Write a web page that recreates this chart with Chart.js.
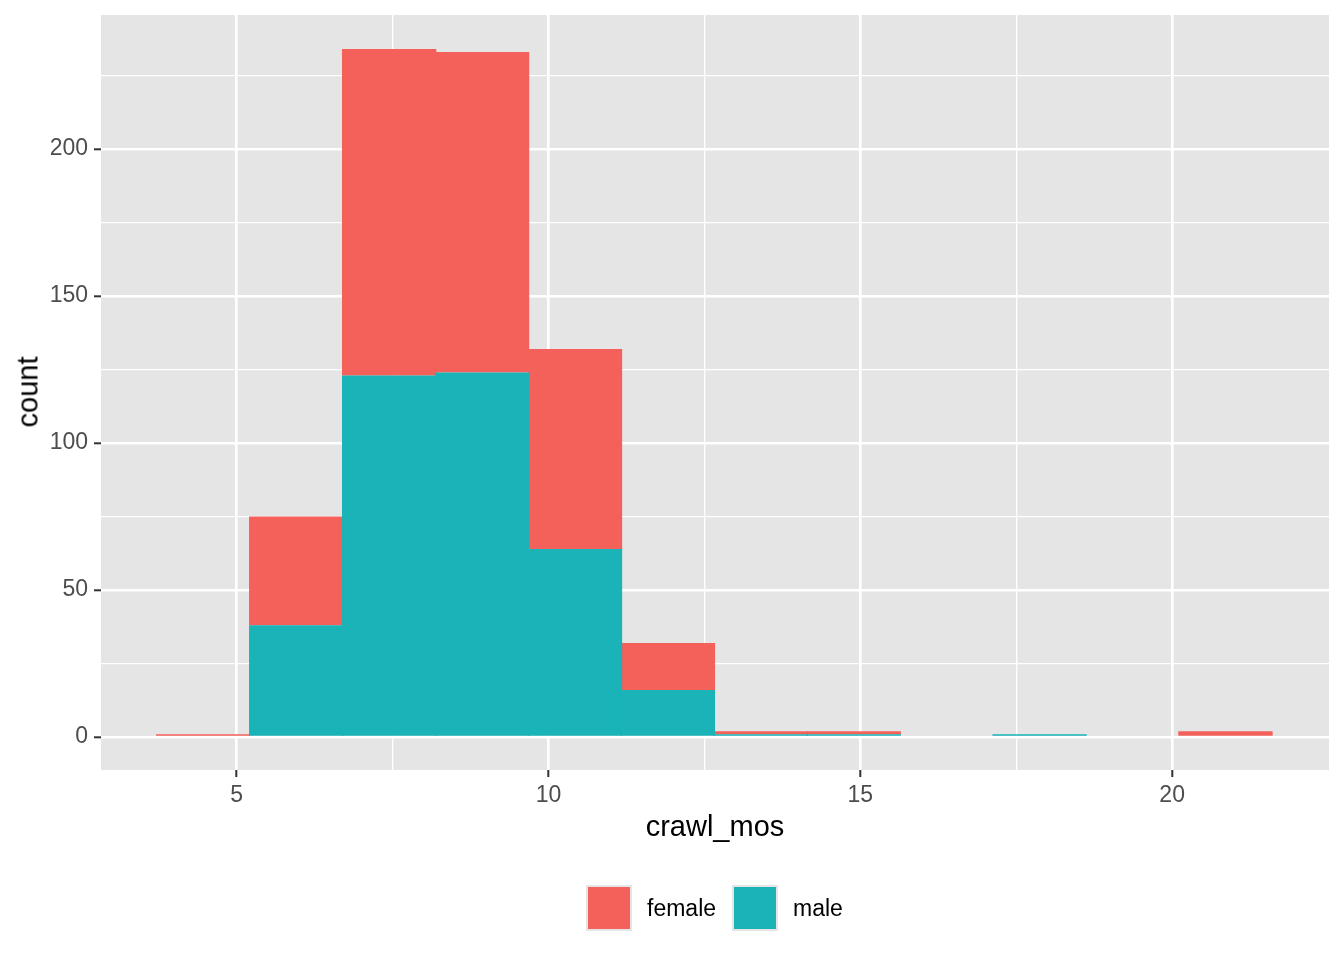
<!DOCTYPE html>
<html>
<head>
<meta charset="utf-8">
<script src="https://cdn.jsdelivr.net/npm/chart.js@4.4.1/dist/chart.umd.min.js"></script>
<style>
  body { margin: 0; background: #fff; }
  #wrap { position: relative; width: 1344px; height: 960px; font-family: "Liberation Sans", Arial, sans-serif; }
  #chart { position: absolute; left: 0; top: 0; }
  .axis-title { position: absolute; color: #000; font-size: 29px; line-height: 29px; white-space: nowrap; }
  #xtitle { left: 0; width: 1430px; top: 812px; text-align: center; }
  #ytitle { left: 28px; top: 392px; transform: translate(-50%, -50%) rotate(-90deg); }
  .legend-item { position: absolute; top: 885px; height: 46px; display: flex; align-items: center; font-size: 23px; color: #000; }
  .legend-key { width: 42px; height: 42px; border: 2px solid #e5e5e5; margin-right: 15px; }
</style>
</head>
<body>
<div id="wrap">
  <canvas id="chart" width="1344" height="960"></canvas>
  <div id="xtitle" class="axis-title">crawl_mos</div>
  <div id="ytitle" class="axis-title">count</div>
  <div id="chart-legend"></div>
</div>
<script>
// histogram bins (crawl_mos), bin width ~1.49
const binCenters = [4.465, 5.955, 7.445, 8.935, 10.425, 11.915, 13.405, 14.895, 16.385, 17.875, 19.365, 20.855];
const maleCounts = [0, 38, 123, 124, 64, 16, 1, 1, 0, 1, 0, 0];
const femaleCounts = [1, 37, 111, 109, 68, 16, 1, 1, 0, 0, 0, 2];

const xTicks = [5, 7.5, 10, 12.5, 15, 17.5, 20];
const yTicks = [0, 25, 50, 75, 100, 125, 150, 175, 200, 225];

const COLORS = {
  female: "#f4605a",
  male: "#19b3b8",
};

const panelBg = {
  id: "panelBg",
  beforeDraw(chart) {
    const { ctx, chartArea: a } = chart;
    ctx.save();
    ctx.fillStyle = "#e5e5e5";
    ctx.fillRect(a.left, a.top, a.right - a.left, a.bottom - a.top);
    ctx.restore();
  },
};

function renderLegend(el, items) {
  const lefts = [586, 732];
  el.innerHTML = items
    .map(
      (i, k) =>
        `<div class="legend-item" style="left:${lefts[k]}px"><span class="legend-key" style="background:${i.color}"></span>${i.label}</div>`
    )
    .join("");
}

const isMajorX = (v) => v % 5 === 0;
const isMajorY = (v) => v % 50 === 0;

new Chart(document.getElementById("chart"), {
  type: "bar",
  data: {
    datasets: [
      {
        label: "male",
        data: binCenters.map((x, i) => ({ x, y: maleCounts[i] })),
        backgroundColor: COLORS.male,
        borderWidth: 0,
      },
      {
        label: "female",
        data: binCenters.map((x, i) => ({ x, y: femaleCounts[i] })),
        backgroundColor: COLORS.female,
        borderWidth: 0,
      },
    ],
  },
  options: {
    responsive: false,
    animation: false,
    barPercentage: 1.015,
    categoryPercentage: 1,
    layout: { padding: { top: 15, right: 15, left: 0, bottom: 0 } },
    plugins: { legend: { display: false }, tooltip: { enabled: false } },
    scales: {
      x: {
        type: "linear",
        stacked: true,
        offset: false,
        min: 2.825,
        max: 22.515,
        afterBuildTicks(scale) {
          scale.ticks = xTicks.map((v) => ({ value: v }));
        },
        afterFit(scale) {
          scale.height = 190;
          scale.paddingLeft = 0;
          scale.paddingRight = 0;
        },
        border: { display: false },
        grid: {
          offset: false,
          color: "#ffffff",
          lineWidth: (ctx) => (isMajorX(ctx.tick.value) ? 2.6 : 1.3),
          tickLength: 7,
          tickColor: (ctx) => (isMajorX(ctx.tick.value) ? "#333333" : "rgba(0,0,0,0)"),
          tickWidth: 2,
        },
        ticks: {
          autoSkip: false,
          maxRotation: 0,
          padding: 5,
          color: "#4d4d4d",
          font: { family: "'Liberation Sans', Arial", size: 23 },
          callback: (v) => (isMajorX(v) ? String(v) : ""),
        },
      },
      y: {
        stacked: true,
        min: -11.2,
        max: 245.6,
        afterBuildTicks(scale) {
          scale.ticks = yTicks.map((v) => ({ value: v }));
        },
        afterFit(scale) {
          scale.width = 101;
          scale.paddingTop = 0;
          scale.paddingBottom = 0;
        },
        border: { display: false },
        grid: {
          color: "#ffffff",
          lineWidth: (ctx) => (isMajorY(ctx.tick.value) ? 2.6 : 1.3),
          tickLength: 7,
          tickColor: (ctx) => (isMajorY(ctx.tick.value) ? "#333333" : "rgba(0,0,0,0)"),
          tickWidth: 2,
        },
        ticks: {
          autoSkip: false,
          padding: 6,
          color: "#4d4d4d",
          font: { family: "'Liberation Sans', Arial", size: 23 },
          callback: (v) => (isMajorY(v) ? String(v) : ""),
        },
      },
    },
  },
  plugins: [panelBg],
});

renderLegend(document.getElementById("chart-legend"), [
  { color: COLORS.female, label: "female" },
  { color: COLORS.male, label: "male" },
]);
</script>
</body>
</html>
